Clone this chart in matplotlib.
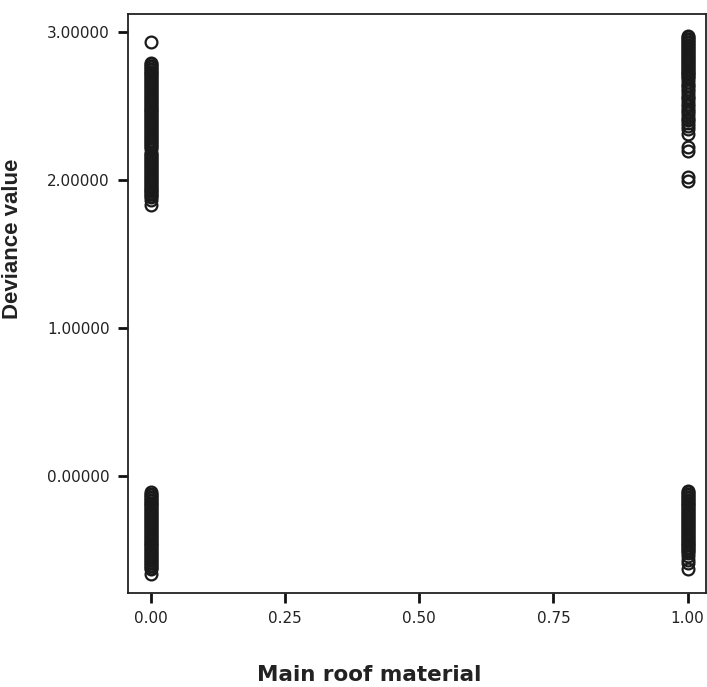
# Deviance residuals against main roof material (0/1)

import matplotlib.pyplot as plt
from matplotlib.ticker import FormatStrFormatter

# deviance values, grouped by roof material
roof0_upper = [2.93, 2.79, 2.78, 2.77, 2.76, 2.75, 2.74, 2.73, 2.72, 2.71,
               2.70, 2.69, 2.68, 2.67, 2.66, 2.65, 2.64, 2.63, 2.62, 2.61,
               2.60, 2.59, 2.58, 2.57, 2.56, 2.55, 2.54, 2.53, 2.52, 2.51,
               2.50, 2.49, 2.48, 2.47, 2.46, 2.45, 2.44, 2.43, 2.42, 2.41,
               2.40, 2.39, 2.38, 2.37, 2.36, 2.35, 2.34, 2.33, 2.32, 2.31,
               2.30, 2.29, 2.28, 2.27, 2.26, 2.25, 2.24, 2.23, 2.22, 2.21,
               2.18, 2.17, 2.16, 2.15, 2.14, 2.13, 2.12, 2.11, 2.10, 2.09,
               2.08, 2.07, 2.06, 2.05, 2.04, 2.03, 2.02, 2.01, 2.00, 1.99,
               1.98, 1.97, 1.96, 1.95, 1.94, 1.93, 1.92, 1.91, 1.90, 1.89,
               1.88, 1.86, 1.83]
roof0_lower = [-0.11, -0.12, -0.13, -0.14, -0.15, -0.16, -0.17, -0.18,
               -0.19, -0.20, -0.21, -0.22, -0.23, -0.24, -0.25, -0.26,
               -0.27, -0.28, -0.29, -0.30, -0.31, -0.32, -0.33, -0.34,
               -0.35, -0.36, -0.37, -0.38, -0.39, -0.40, -0.41, -0.42,
               -0.43, -0.44, -0.45, -0.46, -0.47, -0.48, -0.49, -0.50,
               -0.51, -0.52, -0.53, -0.54, -0.55, -0.56, -0.57, -0.58,
               -0.59, -0.60, -0.61, -0.62, -0.63, -0.66]
roof1_upper = [2.97, 2.96, 2.95, 2.94, 2.93, 2.92, 2.91, 2.90, 2.89, 2.88,
               2.87, 2.86, 2.85, 2.84, 2.83, 2.82, 2.81, 2.80, 2.79, 2.78,
               2.77, 2.76, 2.75, 2.74, 2.73, 2.72, 2.71, 2.70, 2.69, 2.68,
               2.66, 2.64, 2.63, 2.61, 2.60, 2.58, 2.56, 2.55, 2.53, 2.51,
               2.50, 2.48, 2.46, 2.45, 2.43, 2.41, 2.40, 2.38, 2.36, 2.34,
               2.31, 2.22, 2.19, 2.02, 1.99]
roof1_lower = [-0.10, -0.11, -0.12, -0.13, -0.14, -0.15, -0.16, -0.17,
               -0.18, -0.19, -0.20, -0.21, -0.22, -0.23, -0.24, -0.25,
               -0.26, -0.27, -0.28, -0.29, -0.30, -0.31, -0.32, -0.33,
               -0.34, -0.35, -0.36, -0.37, -0.38, -0.39, -0.40, -0.41,
               -0.42, -0.43, -0.44, -0.45, -0.46, -0.47, -0.48, -0.49,
               -0.50, -0.51, -0.52, -0.54, -0.57, -0.59, -0.63]

plt.rc('font', family='DejaVu Sans')

fig = plt.figure(figsize=(7.07, 6.87), dpi=100)
ax = fig.add_axes([0.181, 0.137, 0.818, 0.843])

for xval, vals in [(0.0, roof0_upper), (0.0, roof0_lower),
                   (1.0, roof1_upper), (1.0, roof1_lower)]:
    ax.plot([xval] * len(vals), vals, 'o', ms=8.5, mfc='none',
            mec='#1a1a1a', mew=1.6, ls='none')

ax.set_xlim(-0.043, 1.035)
ax.set_ylim(-0.79, 3.12)
ax.set_xticks([0.0, 0.25, 0.5, 0.75, 1.0])
ax.set_yticks([0.0, 1.0, 2.0, 3.0])
ax.xaxis.set_major_formatter(FormatStrFormatter('%.2f'))
ax.yaxis.set_major_formatter(FormatStrFormatter('%.5f'))

ax.tick_params(axis='both', direction='out', length=7, width=2,
               labelsize=11, color='#111111', labelcolor='#222222')
ax.tick_params(axis='y', pad=6)
ax.tick_params(axis='x', pad=6)
for sp in ax.spines.values():
    sp.set_linewidth(1.3)
    sp.set_color('#222222')

ax.set_ylabel('Deviance value', fontsize=16, fontweight='bold',
              family='Liberation Sans', color='#222222')
ax.yaxis.set_label_coords(-0.182, 0.611)
ax.set_xlabel('Main roof material', fontsize=15.5, fontweight='bold',
              family='DejaVu Sans', color='#222222')
ax.xaxis.set_label_coords(0.417, -0.125)

plt.savefig('out.png', dpi=100)
